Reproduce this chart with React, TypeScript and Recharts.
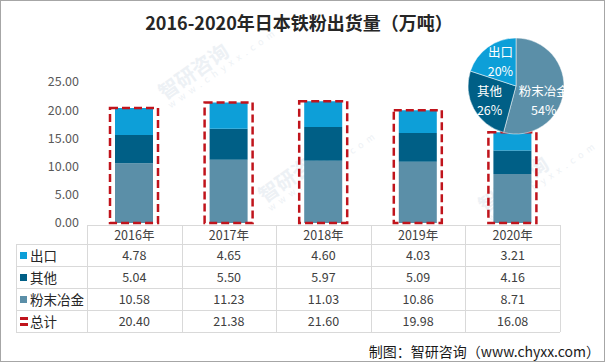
import { Bar, Cell, ComposedChart, Pie, PieChart, XAxis, YAxis } from "recharts";

const years = ["2016年", "2017年", "2018年", "2019年", "2020年"];
const exportVals = [4.78, 4.65, 4.6, 4.03, 3.21];
const otherVals = [5.04, 5.5, 5.97, 5.09, 4.16];
const powderVals = [10.58, 11.23, 11.03, 10.86, 8.71];
const totalVals = [20.4, 21.38, 21.6, 19.98, 16.08];
const yTicks = [0, 5, 10, 15, 20, 25];

const C_EXPORT = "#0d9fd8";
const C_OTHER = "#005f86";
const C_POWDER = "#5b8fa8";
const C_TOTAL = "#c0141c";

const FONT = "'Noto Sans CJK SC', 'Liberation Sans', sans-serif";

const data = years.map((year, i) => ({
  year,
  powder: powderVals[i],
  other: otherVals[i],
  exp: exportVals[i],
  total: totalVals[i],
}));

const last = years.length - 1;
const pieData = [
  { name: "粉末冶金", value: powderVals[last], color: C_POWDER },
  { name: "其他", value: otherVals[last], color: C_OTHER },
  { name: "出口", value: exportVals[last], color: C_EXPORT },
];
// nudges for the pie labels (px)
const labelShift: Record<string, [number, number]> = {
  粉末冶金: [-2, 9],
  其他: [0, -1],
  出口: [2, -2],
};

const rows = [
  { name: "出口", values: exportVals, color: C_EXPORT, dashed: false },
  { name: "其他", values: otherVals, color: C_OTHER, dashed: false },
  { name: "粉末冶金", values: powderVals, color: C_POWDER, dashed: false },
  { name: "总计", values: totalVals, color: C_TOTAL, dashed: true },
];

// layout of the plot / data table
const PLOT_L = 87;
const PLOT_W = 473;
const COL_W = PLOT_W / years.length;
const TABLE_L = 16;
const HEAD_T = 225;
const HEAD_H = 19;
const ROW_H = 22;
const LINE = "#d9d9d9";

const RAD = Math.PI / 180;

function PieLabel(props: any) {
  const { cx, cy, midAngle, percent, name } = props;
  const r = 30;
  const [dx, dy] = labelShift[name] || [0, 0];
  const x = cx + r * Math.cos(-midAngle * RAD) + dx;
  const y = cy + r * Math.sin(-midAngle * RAD) + dy;
  return (
    <g>
      <text x={x} y={y - 3} fill="#fff" fontSize={12.5} textAnchor="middle" fontFamily={FONT}>
        {name}
      </text>
      <text x={x} y={y + 16} fill="#fff" fontSize={12.5} textAnchor="middle" fontFamily={FONT}>
        {Math.round(percent * 100)}%
      </text>
    </g>
  );
}

const marks = [
  [200, 62], [300, 165], [520, 175],
];

export default function App() {
  const fmt = (v: number) => v.toFixed(2);
  const tickStyle = { fill: "#595959", fontSize: 12.5, fontFamily: FONT };
  return (
    <div
      style={{
        position: "absolute",
        left: 0,
        top: 0,
        width: 605,
        height: 362,
        background: "#fff",
        border: "1px solid #a6a6a6",
        boxSizing: "border-box",
        overflow: "hidden",
        fontFamily: FONT,
        color: "#404040",
      }}
    >
      {marks.map(([x, y], i) => (
        <div
          key={i}
          style={{
            position: "absolute",
            left: x - 50,
            top: y - 18,
            transform: "rotate(-35deg)",
            color: "#edf1f5",
            fontSize: 20,
            fontWeight: 700,
            whiteSpace: "nowrap",
            lineHeight: 1,
          }}
        >
          智研咨询
          <div style={{ fontSize: 9, letterSpacing: 5, fontWeight: 400 }}>www.chyxx.com</div>
        </div>
      ))}

      <div
        style={{
          position: "absolute",
          left: 0,
          top: 8,
          width: 596,
          textAlign: "center",
          fontSize: 18,
          fontWeight: 700,
          color: "#262626",
        }}
      >
        2016-2020年日本铁粉出货量（万吨）
      </div>

      <div style={{ position: "absolute", left: -1, top: -1 }}>
        <ComposedChart
          width={605}
          height={362}
          data={data}
          margin={{ top: 82, right: 0, bottom: 139, left: 27 }}
        >
          <XAxis dataKey="year" xAxisId="main" hide />
          <XAxis dataKey="year" xAxisId="box" hide />
          <YAxis
            yAxisId="left"
            orientation="left"
            width={60}
            domain={[0, 25]}
            ticks={yTicks}
            tickFormatter={fmt}
            axisLine={false}
            tickLine={false}
            tick={tickStyle}
          />
          <YAxis
            yAxisId="right"
            orientation="right"
            width={45}
            domain={[0, 25]}
            ticks={yTicks}
            tickFormatter={fmt}
            axisLine={false}
            tickLine={false}
            tick={tickStyle}
          />
          <Bar dataKey="powder" stackId="s" xAxisId="main" yAxisId="left" barSize={38} fill={C_POWDER} isAnimationActive={false} />
          <Bar dataKey="other" stackId="s" xAxisId="main" yAxisId="left" barSize={38} fill={C_OTHER} isAnimationActive={false} />
          <Bar dataKey="exp" stackId="s" xAxisId="main" yAxisId="left" barSize={38} fill={C_EXPORT} isAnimationActive={false} />
          <Bar
            dataKey="total"
            xAxisId="box"
            yAxisId="left"
            barSize={48}
            fill="none"
            stroke={C_TOTAL}
            strokeWidth={2.5}
            strokeDasharray="8 4"
            isAnimationActive={false}
          />
        </ComposedChart>
      </div>

      <div style={{ position: "absolute", left: 439, top: 24 }}>
        <PieChart width={142} height={112}>
          <Pie
            data={pieData}
            dataKey="value"
            nameKey="name"
            cx={71}
            cy={56}
            outerRadius={48}
            startAngle={90}
            endAngle={-270}
            stroke="#fff"
            strokeWidth={0.5}
            labelLine={false}
            label={PieLabel}
            isAnimationActive={false}
          >
            {pieData.map((d) => (
              <Cell key={d.name} fill={d.color} />
            ))}
          </Pie>
        </PieChart>
      </div>

      {/* data table */}
      <div style={{ position: "absolute", left: PLOT_L - 1, top: HEAD_T - 1, width: PLOT_W, height: 1, background: LINE }} />
      {rows.concat([rows[0]]).map((_, r) => (
        <div
          key={"h" + r}
          style={{
            position: "absolute",
            left: TABLE_L - 1,
            top: HEAD_T + HEAD_H + r * ROW_H - 1,
            width: PLOT_L + PLOT_W - TABLE_L,
            height: 1,
            background: LINE,
          }}
        />
      ))}
      <div
        style={{
          position: "absolute",
          left: TABLE_L - 1,
          top: HEAD_T + HEAD_H - 1,
          width: 1,
          height: rows.length * ROW_H,
          background: LINE,
        }}
      />
      {years.concat([""]).map((_, i) => (
        <div
          key={"v" + i}
          style={{
            position: "absolute",
            left: PLOT_L + i * COL_W - 1,
            top: HEAD_T - 1,
            width: 1,
            height: HEAD_H + rows.length * ROW_H,
            background: LINE,
          }}
        />
      ))}
      {years.map((y, i) => (
        <div
          key={y}
          style={{
            position: "absolute",
            left: PLOT_L + i * COL_W - 1,
            top: HEAD_T - 1,
            width: COL_W,
            height: HEAD_H,
            lineHeight: HEAD_H + "px",
            textAlign: "center",
            fontSize: 12.5,
          }}
        >
          {y}
        </div>
      ))}
      {rows.map((row, r) => {
        const top = HEAD_T + HEAD_H + r * ROW_H - 1;
        return (
          <div key={row.name}>
            {row.dashed ? (
              <>
                <div style={{ position: "absolute", left: 19, top: top + 7, width: 8, height: 2.5, background: row.color }} />
                <div style={{ position: "absolute", left: 19, top: top + 13, width: 8, height: 2.5, background: row.color }} />
              </>
            ) : (
              <div style={{ position: "absolute", left: 19, top: top + 8, width: 7, height: 7, background: row.color }} />
            )}
            <div
              style={{
                position: "absolute",
                left: 29,
                top,
                height: ROW_H,
                lineHeight: ROW_H + "px",
                fontSize: 13.5,
                color: "#262626",
              }}
            >
              {row.name}
            </div>
            {row.values.map((v, i) => (
              <div
                key={i}
                style={{
                  position: "absolute",
                  left: PLOT_L + i * COL_W - 1,
                  top,
                  width: COL_W,
                  height: ROW_H,
                  lineHeight: ROW_H + "px",
                  textAlign: "center",
                  fontSize: 12.5,
                }}
              >
                {v.toFixed(2)}
              </div>
            ))}
          </div>
        );
      })}

      <div
        style={{
          position: "absolute",
          right: 4,
          top: 340,
          fontSize: 14,
          color: "#1a1a1a",
          whiteSpace: "nowrap",
        }}
      >
        制图：智研咨询（www.chyxx.com）
      </div>
    </div>
  );
}
